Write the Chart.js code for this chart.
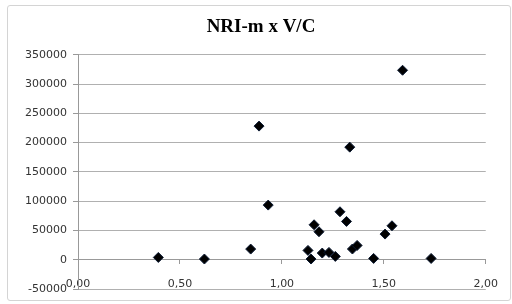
<!DOCTYPE html>
<html>
<head>
<meta charset="utf-8">
<script src="https://cdn.jsdelivr.net/npm/chart.js@4/dist/chart.umd.min.js"></script>
<style>
  html, body { margin: 0; padding: 0; background: #fff; }
  #wrap { position: relative; width: 512px; height: 304px; }
  #frame { position: absolute; left: 7px; top: 5px; width: 504px; height: 296px;
           border: 1px solid #d4d4d4; border-radius: 3px; box-sizing: border-box; }
  canvas { position: absolute; left: 0; top: 0; }
</style>
</head>
<body>
<div id="wrap">
  <div id="frame"></div>
  <canvas id="c" width="512" height="304"></canvas>
</div>
<script>
const chartTitle = "NRI-m x V/C";
const xValues = [0.394, 0.62, 0.847, 0.888, 0.933, 1.128, 1.143, 1.158, 1.182, 1.198, 1.231, 1.262, 1.285, 1.317, 1.333, 1.346, 1.369, 1.450, 1.506, 1.540, 1.592, 1.732];
const yValues = [3900, 1200, 18200, 228200, 93300, 15900, 1200, 59700, 47800, 11400, 12500, 5700, 81900, 65400, 192300, 18300, 24400, 2200, 43800, 58000, 323600, 2200];
const xTicks = [0, 0.5, 1, 1.5, 2];
const yTicks = [-50000, 0, 50000, 100000, 150000, 200000, 250000, 300000, 350000];

const points = xValues.map((x, i) => ({ x: x, y: yValues[i] }));
const labelFont = { family: "DejaVu Sans", size: 11 };
const labelColor = "#333333";

new Chart(document.getElementById("c"), {
  type: "scatter",
  data: {
    datasets: [{
      data: points,
      pointStyle: "rectRot",
      pointRadius: 5,
      pointHoverRadius: 5,
      backgroundColor: "#000000",
      borderColor: "#0b1a33",
      borderWidth: 1
    }]
  },
  options: {
    responsive: false,
    animation: false,
    layout: { padding: { left: 20, right: 10, top: 0, bottom: 15 } },
    plugins: {
      legend: { display: false },
      tooltip: { enabled: false },
      title: {
        display: true,
        text: chartTitle,
        color: "#000",
        font: { family: "Liberation Serif", size: 19, weight: "bold" },
        padding: { top: 16, bottom: 16 }
      }
    },
    scales: {
      x: {
        type: "linear",
        position: { y: 0 },
        min: xTicks[0],
        max: xTicks[xTicks.length - 1],
        afterBuildTicks: (s) => { s.ticks = xTicks.map(v => ({ value: v })); },
        ticks: {
          font: labelFont,
          color: labelColor,
          padding: 14,
          maxRotation: 0,
          callback: (v) => Number(v).toFixed(2).replace(".", ",")
        },
        grid: { display: true, drawOnChartArea: false, drawTicks: true, tickLength: 4, color: "#999999" },
        border: { display: true, color: "#999999", width: 1 }
      },
      y: {
        type: "linear",
        min: yTicks[0],
        max: yTicks[yTicks.length - 1],
        afterBuildTicks: (s) => { s.ticks = yTicks.map(v => ({ value: v })); },
        afterFit: (s) => { s.width = 58; },
        ticks: {
          font: labelFont,
          color: labelColor,
          padding: 6,
          callback: (v) => String(v)
        },
        grid: { color: "#b0b0b0", lineWidth: 1, drawTicks: true, tickLength: 5, tickColor: "#999999" },
        border: { display: true, color: "#999999", width: 1 }
      },
      ySpacer: {
        type: "linear",
        position: "right",
        display: true,
        min: 0,
        max: 1,
        afterFit: (s) => { s.width = 12; },
        ticks: { display: false },
        grid: { display: false, drawTicks: false },
        border: { display: false }
      }
    }
  }
});
</script>
</body>
</html>
